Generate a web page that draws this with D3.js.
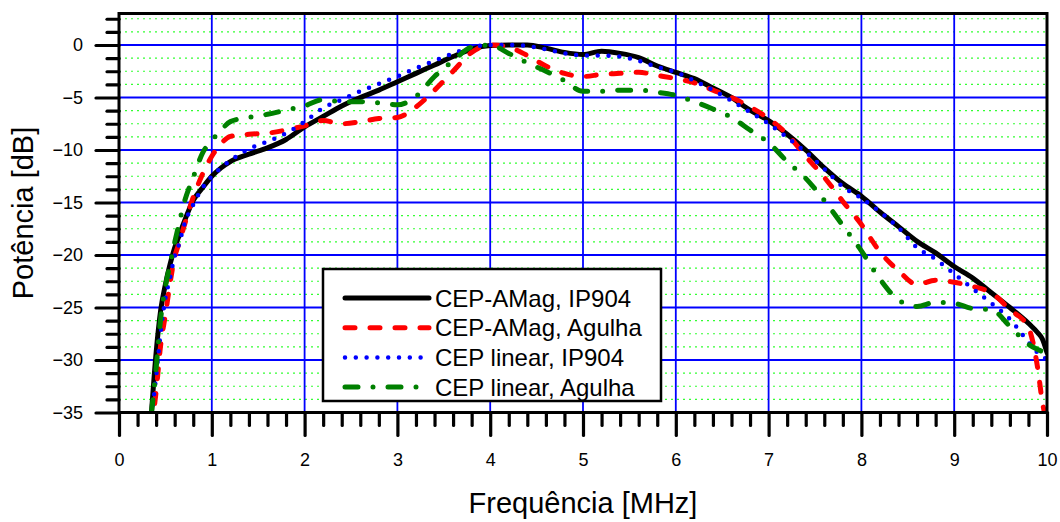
<!DOCTYPE html>
<html><head><meta charset="utf-8">
<script src="https://cdn.jsdelivr.net/npm/d3@7"></script>
<style>
html,body{margin:0;padding:0;background:#fff;}
svg{display:block;font-family:"Liberation Sans",Arial,sans-serif;}
</style></head><body>
<svg id="chart" width="1060" height="522"></svg>
<script>
// Frequency grid (MHz) shared by all four spectra
const freq = [0.35, 0.4, 0.45, 0.5, 0.55, 0.6, 0.65, 0.7, 0.8, 0.9, 1.0, 1.1, 1.2, 1.4, 1.6, 1.8,
  2.0, 2.2, 2.4, 2.6, 2.8, 3.0, 3.2, 3.4, 3.6, 3.8, 4.0, 4.2, 4.4, 4.6, 4.8, 5.0, 5.2, 5.4, 5.6, 5.8,
  6.0, 6.2, 6.4, 6.6, 6.8, 7.0, 7.2, 7.4, 7.6, 7.8, 8.0, 8.2, 8.4, 8.6, 8.8, 9.0, 9.2, 9.4, 9.6, 9.8,
  9.9, 9.95, 10.0];

// Power (dB) for each spectrum
const ampIP904 = [-35, -29.3, -25.2, -22.8, -20.9, -19.3, -18.1, -16.9, -14.8, -13.6, -12.5, -11.7, -11.1, -10.4, -9.8, -9.0,
  -7.8, -6.8, -5.8, -5.0, -4.3, -3.5, -2.7, -1.9, -1.1, -0.4, -0.05, 0, 0, -0.3, -0.7, -0.9, -0.6, -0.8, -1.2, -2.0,
  -2.6, -3.2, -4.1, -5.0, -6.2, -7.2, -8.5, -10.0, -11.7, -13.2, -14.4, -15.9, -17.3, -18.7, -19.8, -21.1, -22.2, -23.6, -25.0, -26.5,
  -27.4, -28.0, -29.3];
const ampAgulha = [-36.5, -33.0, -28.5, -25.7, -22.7, -20.2, -18.8, -17.3, -14.5, -12.3, -10.6, -9.4, -8.7, -8.5, -8.4, -8.1,
  -7.7, -7.2, -7.5, -7.3, -7.0, -6.9, -5.9, -4.3, -2.5, -0.7, 0, -0.2, -1.0, -2.0, -2.7, -3.0, -2.8, -2.7, -2.6, -2.9,
  -3.2, -3.6, -4.3, -5.0, -5.9, -7.0, -8.5, -10.6, -12.6, -14.9, -17.1, -19.7, -21.5, -22.8, -22.4, -22.6, -23.0, -23.6, -25.2, -26.9,
  -30.8, -34.0, -36.0];
const linIP904 = [-35.3, -31.6, -27.3, -24.1, -22.2, -20.1, -18.9, -17.2, -15.2, -13.6, -12.5, -11.7, -11.0, -9.9, -9.2, -8.4,
  -7.3, -6.0, -5.2, -4.4, -3.7, -3.0, -2.2, -1.5, -0.8, -0.2, 0, 0, -0.1, -0.4, -0.8, -1.0, -1.0, -1.1, -1.5, -2.1,
  -2.6, -3.4, -4.3, -5.3, -6.4, -7.5, -8.8, -10.2, -11.8, -13.5, -14.6, -15.9, -17.4, -19.3, -20.4, -21.8, -23.2, -24.6, -26.1, -28.3,
  -29.3, -29.6, -30.0];
const linAgulha = [-35, -30.8, -26.0, -23.0, -20.9, -18.8, -16.9, -15.1, -12.6, -10.3, -9.1, -8.1, -7.3, -6.9, -6.6, -6.2,
  -5.8, -5.2, -5.4, -5.4, -5.5, -5.7, -4.9, -3.0, -1.5, -0.2, 0, -0.8, -1.7, -2.5, -3.4, -4.4, -4.4, -4.3, -4.3, -4.5,
  -4.8, -5.4, -6.1, -6.9, -8.1, -9.3, -11.1, -12.7, -14.8, -17.2, -19.6, -22.3, -24.3, -24.9, -24.5, -24.6, -25.1, -25.2, -26.8, -28.5,
  -29.0, -29.2, -29.4];

const seriesNames = ["CEP-AMag, IP904", "CEP-AMag, Agulha", "CEP linear, IP904", "CEP linear, Agulha"];
const xTicks = [0, 1, 2, 3, 4, 5, 6, 7, 8, 9, 10];
const yTicks = [0, -5, -10, -15, -20, -25, -30, -35];

const styles = [
  { color: "#000000", width: 5, dash: null },
  { color: "#ff0000", width: 5, dash: "10,15" },
  { color: "#0000ff", width: 4.5, dash: "0,10.8" },
  { color: "#008000", width: 5, dash: "13,15,0,15" }
];
const seriesValues = [ampIP904, ampAgulha, linIP904, linAgulha];

const L = 119, R = 1047, T = 13.5, B = 412.5;
const svg = d3.select("#chart");
const x = d3.scaleLinear().domain([0, 10]).range([L, R]);
const y = d3.scaleLinear().domain([-35, 3]).range([B, T]);

// minor horizontal grid every 1.25 dB
const minorY = d3.range(3 / 1.25 | 0, -29, -1).map(i => i * 1.25).filter(v => v > -35 && v <= 3 && Math.abs(v % 5) > 1e-6);
svg.append("g").selectAll("line").data(minorY).join("line")
  .attr("x1", L).attr("x2", R).attr("y1", d => y(d)).attr("y2", d => y(d))
  .attr("stroke", "#33ff33").attr("stroke-width", 1.2).attr("stroke-dasharray", "2,4");

// major grid
const gridG = svg.append("g").attr("stroke", "#0000ff").attr("stroke-width", 1.8);
gridG.selectAll(".vx").data(xTicks.filter(d => d > 0 && d < 10)).join("line")
  .attr("x1", d => x(d)).attr("x2", d => x(d)).attr("y1", T).attr("y2", B);
gridG.selectAll(".hy").data(yTicks.filter(d => d > -35)).join("line")
  .attr("y1", d => y(d)).attr("y2", d => y(d)).attr("x1", L).attr("x2", R);

// curves
svg.append("clipPath").attr("id", "plotClip").append("rect")
  .attr("x", L).attr("y", T).attr("width", R - L).attr("height", B - T);
const line = d3.line().x((d, i) => x(freq[i])).y(d => y(d)).curve(d3.curveMonotoneX);
const curves = svg.append("g").attr("clip-path", "url(#plotClip)");
seriesValues.forEach((vals, k) => {
  const s = styles[k];
  curves.append("path").attr("d", line(vals))
    .attr("fill", "none").attr("stroke", s.color).attr("stroke-width", s.width)
    .attr("stroke-linecap", "round").attr("stroke-linejoin", "round")
    .attr("stroke-dasharray", s.dash);
});

// axes
const fontTick = 18;
const xAxisMajor = d3.axisBottom(x).tickValues(xTicks).tickSize(23).tickPadding(18).tickFormat(d3.format("d"));
const xAxisMinor = d3.axisBottom(x).tickValues(d3.range(0, 50).map(i => i * 0.2).filter(v => Math.abs(v - Math.round(v)) > 1e-6)).tickSize(13).tickFormat("");
const yAxisMajor = d3.axisLeft(y).tickValues(yTicks).tickSize(23).tickPadding(13).tickFormat(d3.format("d"));
const yAxisMinor = d3.axisLeft(y).tickValues(d3.range(2, -28, -1).map(i => i * 1.25).filter(v => Math.abs(v % 5) > 1e-6 && v > -35)).tickSize(12).tickFormat("");

function styleAxis(g) {
  g.select(".domain").remove();
  g.selectAll(".tick line").attr("stroke", "#000").attr("stroke-width", 3.2).attr("stroke-linecap", "round");
  g.selectAll(".tick text").attr("font-size", fontTick).attr("fill", "#000")
    .attr("font-family", "'Liberation Sans', Arial, sans-serif");
}
svg.append("g").attr("transform", `translate(0,${B})`).call(xAxisMinor).call(styleAxis);
svg.append("g").attr("transform", `translate(0,${B})`).call(xAxisMajor).call(styleAxis);
svg.append("g").attr("transform", `translate(${L},0)`).call(yAxisMinor).call(styleAxis);
svg.append("g").attr("transform", `translate(${L},0)`).call(yAxisMajor).call(styleAxis);

// frame
svg.append("rect").attr("x", L).attr("y", T).attr("width", R - L).attr("height", B - T)
  .attr("fill", "none").attr("stroke", "#000").attr("stroke-width", 3);

// axis titles
svg.append("text").attr("x", (L + R) / 2).attr("y", 513).attr("text-anchor", "middle")
  .attr("font-size", 29).text("Frequência [MHz]");
svg.append("text").attr("transform", `translate(33,${(T + B) / 2}) rotate(-90)`).attr("text-anchor", "middle")
  .attr("font-size", 29).text("Potência [dB]");

// legend
const lg = svg.append("g");
lg.append("rect").attr("x", 323).attr("y", 269).attr("width", 338).attr("height", 132)
  .attr("fill", "#fff").attr("stroke", "#000").attr("stroke-width", 2.5);
seriesNames.forEach((name, k) => {
  const s = styles[k];
  const yy = 298 + k * 29.7;
  lg.append("line").attr("x1", 345).attr("x2", 429).attr("y1", yy).attr("y2", yy)
    .attr("stroke", s.color).attr("stroke-width", s.width).attr("stroke-linecap", "round")
    .attr("stroke-dasharray", s.dash);
  lg.append("text").attr("x", 435).attr("y", yy).attr("dy", "0.36em").attr("font-size", 24).text(name);
});
</script>
</body></html>
